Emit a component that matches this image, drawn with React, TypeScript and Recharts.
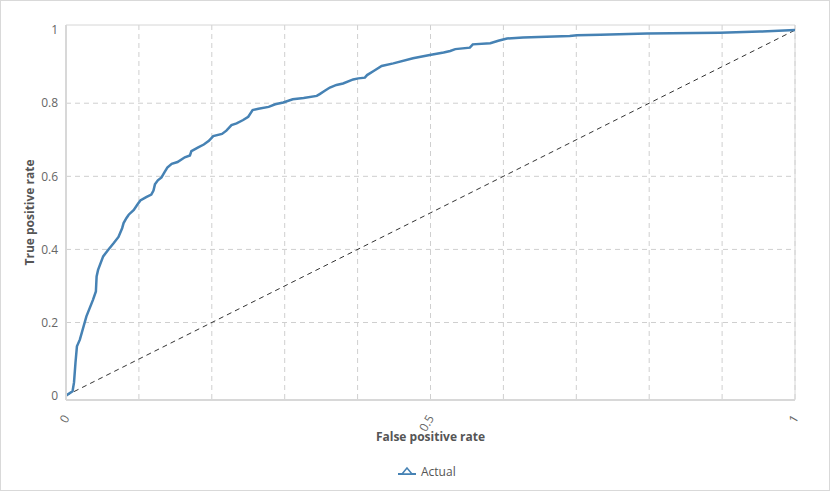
import React from "react";
import { CartesianGrid, Label, Line, LineChart, ReferenceArea, ReferenceLine, XAxis, YAxis } from "recharts";

// ROC curve (false positive rate -> true positive rate)
const fpr = [
  0, 0.009, 0.011, 0.013, 0.015, 0.019, 0.028, 0.037, 0.041, 0.042, 0.044, 0.051, 0.058, 0.065, 0.072, 0.077,
  0.079, 0.083, 0.086, 0.093, 0.098, 0.102, 0.11, 0.117, 0.12, 0.122, 0.126, 0.131, 0.135, 0.139, 0.145, 0.153,
  0.163, 0.17, 0.172, 0.182, 0.189, 0.196, 0.202, 0.214, 0.22, 0.227, 0.234, 0.243, 0.25, 0.256, 0.264, 0.278,
  0.287, 0.298, 0.311, 0.326, 0.344, 0.348, 0.355, 0.362, 0.371, 0.38, 0.394, 0.401, 0.41, 0.413, 0.422, 0.433,
  0.449, 0.476, 0.499, 0.518, 0.527, 0.534, 0.554, 0.558, 0.582, 0.593, 0.605, 0.627, 0.659, 0.691, 0.701, 0.733,
  0.797, 0.897, 0.952, 1,
];
const tpr = [
  0, 0.012, 0.036, 0.09, 0.135, 0.153, 0.217, 0.262, 0.285, 0.326, 0.344, 0.381, 0.399, 0.416, 0.434, 0.458,
  0.472, 0.486, 0.495, 0.508, 0.523, 0.534, 0.543, 0.55, 0.561, 0.578, 0.589, 0.597, 0.611, 0.624, 0.634, 0.639,
  0.652, 0.657, 0.669, 0.68, 0.687, 0.697, 0.71, 0.716, 0.725, 0.74, 0.745, 0.754, 0.763, 0.781, 0.785, 0.79,
  0.797, 0.802, 0.811, 0.814, 0.82, 0.825, 0.834, 0.843, 0.85, 0.854, 0.865, 0.868, 0.87, 0.877, 0.888, 0.902,
  0.909, 0.923, 0.932, 0.939, 0.943, 0.948, 0.952, 0.961, 0.964, 0.971, 0.977, 0.98, 0.982, 0.984, 0.986, 0.987,
  0.991, 0.993, 0.996, 1,
];

// chance line
const diagFpr = [0, 1];
const diagTpr = [0, 1];

const xTicks = [0, 0.1, 0.2, 0.3, 0.4, 0.5, 0.6, 0.7, 0.8, 0.9, 1];
const xTickLabels = [0, 0.5, 1];
const yTicks = [0, 0.2, 0.4, 0.6, 0.8, 1];
const yGrid = [0.2, 0.4, 0.6, 0.8];

const seriesName = "Actual";
const xTitle = "False positive rate";
const yTitle = "True positive rate";

const FONT = "'Open Sans', sans-serif";
const LINE_COLOR = "#4682b4";
const GRID = "#cfcfcf";
const Y_DOMAIN: [number, number] = [-0.012, 1.014];

const rocRows = fpr.map((x, i) => ({ fpr: x, tpr: tpr[i] }));
const diagRows = diagFpr.map((x, i) => ({ fpr: x, tpr: diagTpr[i] }));

function XTick(props: any) {
  const { x, y, payload } = props;
  if (!xTickLabels.includes(payload.value)) return null;
  return (
    <text
      x={x + 4}
      y={y + 10}
      transform={`rotate(-60 ${x + 4} ${y + 10})`}
      textAnchor="end"
      fontSize={12}
      fill="#666"
      fontFamily={FONT}
    >
      {String(payload.value)}
    </text>
  );
}

export default function App() {
  return (
    <div
      style={{
        position: "absolute",
        left: 0,
        top: 0,
        width: 830,
        height: 491,
        boxSizing: "border-box",
        border: "1px solid #d9d9d9",
        background: "#fff",
        fontFamily: FONT,
      }}
    >
      <div style={{ position: "absolute", left: -1, top: -1 }}>
        <LineChart width={830} height={491} data={rocRows} margin={{ top: 25, right: 35, bottom: 45, left: 0 }}>
          <CartesianGrid horizontal={false} stroke={GRID} strokeDasharray="5 4" />
          {yGrid.map((v) => (
            <ReferenceLine key={v} y={v} stroke={GRID} strokeDasharray="5 4" />
          ))}
          <ReferenceArea x1={0} x2={1} y1={Y_DOMAIN[0]} y2={Y_DOMAIN[1]} fill="none" stroke="#d6d6d6" />
          <XAxis
            type="number"
            dataKey="fpr"
            domain={[0, 1]}
            ticks={xTicks}
            interval={0}
            height={46}
            tickLine={false}
            axisLine={{ stroke: "#d8d8d8", strokeWidth: 2 }}
            tick={<XTick />}
          >
            <Label
              content={({ viewBox }: any) => (
                <text
                  x={viewBox.x + viewBox.width / 2}
                  y={viewBox.y + 41}
                  textAnchor="middle"
                  fontSize={12}
                  fontWeight="bold"
                  fill="#555"
                  fontFamily={FONT}
                >
                  {xTitle}
                </text>
              )}
            />
          </XAxis>
          <YAxis
            type="number"
            domain={Y_DOMAIN}
            allowDataOverflow
            ticks={yTicks}
            interval={0}
            width={66}
            tickLine={false}
            axisLine={{ stroke: "#d8d8d8", strokeWidth: 2 }}
            tick={{ fontSize: 12, fill: "#666", fontFamily: FONT }}
            tickFormatter={(v: number) => String(v)}
          >
            <Label
              content={({ viewBox }: any) => {
                const cx = 34;
                const cy = viewBox.y + viewBox.height / 2;
                return (
                  <text
                    x={cx}
                    y={cy}
                    transform={`rotate(-90 ${cx} ${cy})`}
                    textAnchor="middle"
                    fontSize={12}
                    fontWeight="bold"
                    fill="#555"
                    fontFamily={FONT}
                  >
                    {yTitle}
                  </text>
                );
              }}
            />
          </YAxis>
          <Line
            data={diagRows}
            dataKey="tpr"
            type="linear"
            stroke="#333"
            strokeWidth={1}
            strokeDasharray="5 4"
            dot={false}
            activeDot={false}
            legendType="none"
            isAnimationActive={false}
          />
          <Line
            dataKey="tpr"
            name={seriesName}
            type="linear"
            stroke={LINE_COLOR}
            strokeWidth={2.5}
            dot={false}
            activeDot={false}
            isAnimationActive={false}
          />
        </LineChart>
      </div>
      <div
        style={{
          position: "absolute",
          left: 397,
          top: 462,
          display: "flex",
          alignItems: "center",
          fontSize: 12,
          color: "#555",
        }}
      >
        <svg width={18} height={12} style={{ marginRight: 5 }}>
          <line x1={0} y1={8} x2={18} y2={8} stroke={LINE_COLOR} strokeWidth={2} />
          <polygon points="9,2 14,8 4,8" fill="#fff" stroke={LINE_COLOR} strokeWidth={1.5} />
        </svg>
        <span>{seriesName}</span>
      </div>
    </div>
  );
}
